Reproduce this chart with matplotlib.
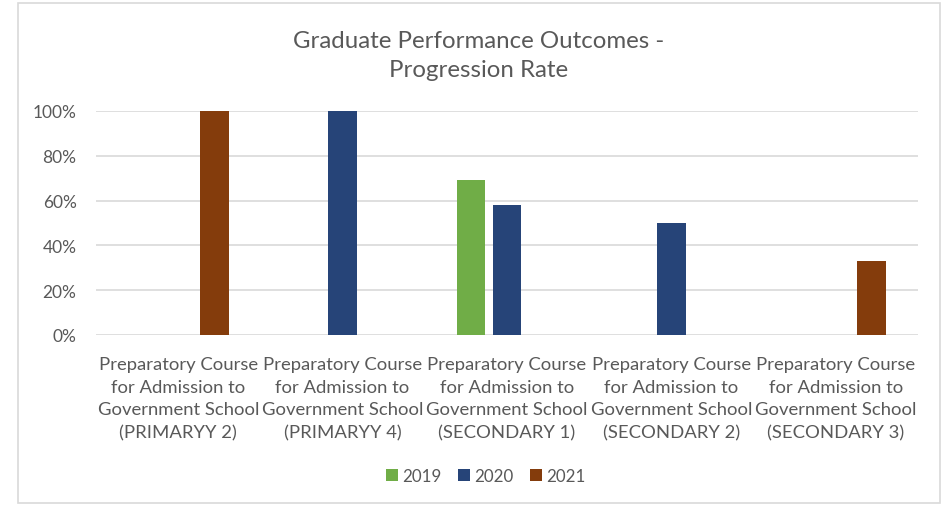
import numpy as np
import matplotlib
matplotlib.use("Agg")
import matplotlib.pyplot as plt
from matplotlib.patches import Rectangle
from matplotlib.ticker import PercentFormatter

categories = [
    "Preparatory Course\nfor Admission to\nGovernment School\n(PRIMARYY 2)",
    "Preparatory Course\nfor Admission to\nGovernment School\n(PRIMARYY 4)",
    "Preparatory Course\nfor Admission to\nGovernment School\n(SECONDARY 1)",
    "Preparatory Course\nfor Admission to\nGovernment School\n(SECONDARY 2)",
    "Preparatory Course\nfor Admission to\nGovernment School\n(SECONDARY 3)",
]
years = ["2019", "2020", "2021"]
v2019 = [np.nan, np.nan, 0.69, np.nan, np.nan]
v2020 = [np.nan, 1.00, 0.58, 0.50, np.nan]
v2021 = [1.00, np.nan, np.nan, np.nan, 0.33]
yticks = [0, 0.2, 0.4, 0.6, 0.8, 1.0]
title = "Graduate Performance Outcomes -\nProgression Rate"

colors = ["#70AD47", "#264478", "#843C0C"]
text_color = "#595959"
grid_color = "#D9D9D9"

plt.rcParams['font.family'] = ['Lato', 'DejaVu Sans']

fig = plt.figure(figsize=(9.43, 5.06), dpi=100)
ax = fig.add_axes([96/943, (506-336)/506, (918-96)/943, (336-112)/506])

x = np.arange(len(categories))
width = 0.176
offsets = [-0.219, 0.0, 0.219]
series = [v2019, v2020, v2021]
handles = []
for vals, off, c, lab in zip(series, offsets, colors, years):
    h = ax.bar(x + off, vals, width=width, color=c, label=lab, zorder=3)
    handles.append(h)

ax.set_xlim(-0.5, len(categories) - 0.5)
ax.set_ylim(0, 1.0)
ax.set_yticks(yticks)
ax.yaxis.set_major_formatter(PercentFormatter(1.0, decimals=0))
ax.grid(axis='y', color=grid_color, linewidth=1.2, zorder=0)
for s in ax.spines.values():
    s.set_visible(False)
ax.tick_params(axis='both', length=0, colors=text_color)
ax.tick_params(axis='y', pad=14, labelsize=12.5)
ax.set_xticks(x)
ax.set_xticklabels(categories, linespacing=1.52, fontsize=13.3)
ax.tick_params(axis='x', pad=15)

fig.text(0.508, (506-56)/506, title, ha='center', va='center', fontsize=17.3,
         color=text_color, linespacing=1.5)

leg = fig.legend(handles=handles, labels=years, loc='center',
                 bbox_to_anchor=(0.515, (506-477)/506), ncol=3, frameon=False,
                 fontsize=12.2, handlelength=0.68, handleheight=0.68,
                 handletextpad=0.25, columnspacing=1.0)
for t in leg.get_texts():
    t.set_color(text_color)

fig.patches.append(Rectangle((18/943, (506-504)/506), (940-18)/943, (504-4)/506,
                             transform=fig.transFigure, fill=False,
                             edgecolor=grid_color, linewidth=1.2))

fig.savefig("out.png", dpi=100, facecolor="white")
